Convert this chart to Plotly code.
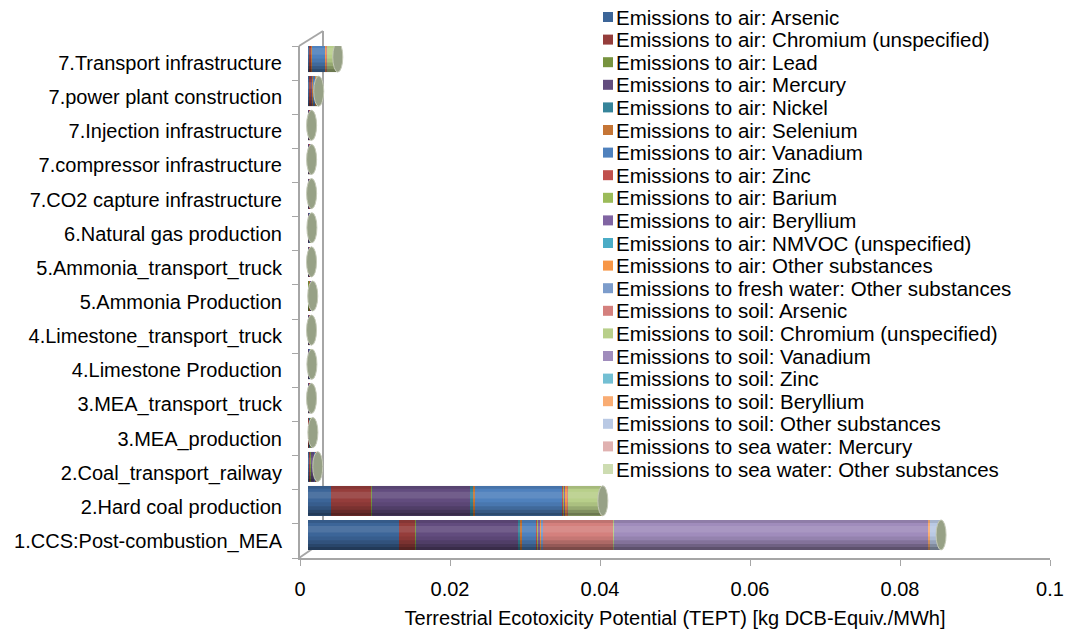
import plotly.graph_objects as go

# ---------------------------------------------------------------- data
categories = [
    "1.CCS:Post-combustion_MEA",
    "2.Hard coal production",
    "2.Coal_transport_railway",
    "3.MEA_production",
    "3.MEA_transport_truck",
    "4.Limestone Production",
    "4.Limestone_transport_truck",
    "5.Ammonia Production",
    "5.Ammonia_transport_truck",
    "6.Natural gas production",
    "7.CO2 capture infrastructure",
    "7.compressor infrastructure",
    "7.Injection infrastructure",
    "7.power plant construction",
    "7.Transport infrastructure",
]

series_names = [
    "Emissions to air: Arsenic",
    "Emissions to air: Chromium (unspecified)",
    "Emissions to air: Lead",
    "Emissions to air: Mercury",
    "Emissions to air: Nickel",
    "Emissions to air: Selenium",
    "Emissions to air: Vanadium",
    "Emissions to air: Zinc",
    "Emissions to air: Barium",
    "Emissions to air: Beryllium",
    "Emissions to air: NMVOC (unspecified)",
    "Emissions to air: Other substances",
    "Emissions to fresh water: Other substances",
    "Emissions to soil: Arsenic",
    "Emissions to soil: Chromium (unspecified)",
    "Emissions to soil: Vanadium",
    "Emissions to soil: Zinc",
    "Emissions to soil: Beryllium",
    "Emissions to soil: Other substances",
    "Emissions to sea water: Mercury",
    "Emissions to sea water: Other substances",
]

# kg DCB-Equiv./MWh, one value per category (same order as `categories`)
air_arsenic = [0.0121, 0.0031, 0.00020, 0.00008, 0.00005, 0.00006, 0.00005, 0.00007, 0.00005, 0.00006, 0.00005, 0.00005, 0.00005, 0.00018, 0.00010]
air_chromium = [0.0022, 0.0053, 0.00018, 0.00007, 0.00005, 0.00005, 0.00005, 0.00006, 0.00005, 0.00005, 0.00006, 0.00006, 0.00006, 0.00030, 0.00030]
air_lead = [0.00008, 0.00010, 0.00002, 0.00001, 0.00001, 0.00001, 0.00001, 0.00001, 0.00001, 0.00001, 0.00001, 0.00001, 0.00001, 0.00002, 0.00002]
air_mercury = [0.0137, 0.0131, 0.00040, 0.00009, 0.00007, 0.00008, 0.00007, 0.00009, 0.00007, 0.00008, 0.00006, 0.00006, 0.00006, 0.00012, 0.00006]
air_nickel = [0.00018, 0.00035, 0.00002, 0.00002, 0.00001, 0.00001, 0.00001, 0.00002, 0.00001, 0.00001, 0.00001, 0.00001, 0.00001, 0.00003, 0.00002]
air_selenium = [0.00030, 0.00028, 0.00002, 0.00002, 0.00001, 0.00001, 0.00001, 0.00002, 0.00001, 0.00001, 0.00001, 0.00001, 0.00001, 0.00002, 0.00001]
air_vanadium = [0.0019, 0.0117, 0.00020, 0.00008, 0.00006, 0.00007, 0.00006, 0.00008, 0.00006, 0.00007, 0.00006, 0.00006, 0.00006, 0.00028, 0.00180]
air_zinc = [0.00015, 0.00012, 0.00003, 0.00002, 0.00002, 0.00002, 0.00002, 0.00002, 0.00002, 0.00002, 0.00002, 0.00002, 0.00002, 0.00004, 0.00003]
air_barium = [0.00008, 0.00010, 0.00002, 0.00002, 0.00001, 0.00001, 0.00001, 0.00002, 0.00001, 0.00001, 0.00001, 0.00001, 0.00001, 0.00002, 0.00002]
air_beryllium = [0.00025, 0.00020, 0.00002, 0.00002, 0.00001, 0.00001, 0.00001, 0.00002, 0.00001, 0.00001, 0.00001, 0.00001, 0.00001, 0.00002, 0.00002]
air_nmvoc = [0.00005, 0.00004, 0.00001, 0.00001, 0.00001, 0.00001, 0.00001, 0.00001, 0.00001, 0.00001, 0.00001, 0.00001, 0.00001, 0.00001, 0.00001]
air_other = [0.00020, 0.00018, 0.00003, 0.00002, 0.00002, 0.00002, 0.00002, 0.00002, 0.00002, 0.00002, 0.00002, 0.00002, 0.00002, 0.00003, 0.00003]
freshwater_other = [0.00008, 0.00005, 0.00001, 0.00001, 0.00001, 0.00001, 0.00001, 0.00001, 0.00001, 0.00001, 0.00001, 0.00001, 0.00001, 0.00002, 0.00002]
soil_arsenic = [0.0094, 0.00006, 0.00002, 0.00003, 0.00002, 0.00002, 0.00002, 0.00003, 0.00002, 0.00002, 0.00002, 0.00002, 0.00002, 0.00003, 0.00003]
soil_chromium = [0.00010, 0.0044, 0.00004, 0.00003, 0.00002, 0.00003, 0.00002, 0.00003, 0.00002, 0.00003, 0.00003, 0.00003, 0.00003, 0.00020, 0.00140]
soil_vanadium = [0.0419, 0.00008, 0.00003, 0.00006, 0.00004, 0.00005, 0.00004, 0.00006, 0.00004, 0.00005, 0.00004, 0.00004, 0.00004, 0.00005, 0.00004]
soil_zinc = [0.00006, 0.00003, 0.00001, 0.00001, 0.00001, 0.00001, 0.00001, 0.00001, 0.00001, 0.00001, 0.00001, 0.00001, 0.00001, 0.00001, 0.00001]
soil_beryllium = [0.00025, 0.00004, 0.00001, 0.00001, 0.00001, 0.00001, 0.00001, 0.00001, 0.00001, 0.00001, 0.00001, 0.00001, 0.00001, 0.00001, 0.00001]
soil_other = [0.0014, 0.00006, 0.00002, 0.00003, 0.00002, 0.00002, 0.00002, 0.00003, 0.00002, 0.00002, 0.00002, 0.00002, 0.00002, 0.00003, 0.00003]
seawater_mercury = [0.00001, 0.00001, 0.000005, 0.000005, 0.000005, 0.000005, 0.000005, 0.000005, 0.000005, 0.000005, 0.000005, 0.000005, 0.000005, 0.000005, 0.000005]
seawater_other = [0.00002, 0.00001, 0.000005, 0.000005, 0.000005, 0.000005, 0.000005, 0.000005, 0.000005, 0.000005, 0.000005, 0.000005, 0.000005, 0.000005, 0.000005]

series_values = [
    air_arsenic, air_chromium, air_lead, air_mercury, air_nickel, air_selenium,
    air_vanadium, air_zinc, air_barium, air_beryllium, air_nmvoc, air_other,
    freshwater_other, soil_arsenic, soil_chromium, soil_vanadium, soil_zinc,
    soil_beryllium, soil_other, seawater_mercury, seawater_other,
]

series_colors = [
    "#3c6598", "#953d3b", "#77933f", "#624c7e", "#36849a", "#c57535",
    "#4f81bd", "#c0504d", "#9bbb59", "#8064a2", "#4bacc6", "#f79646",
    "#7c9ccb", "#d4807d", "#b8cf8a", "#a08cbc", "#73bfd3", "#f9ac73",
    "#b9c9e4", "#e0b1b0", "#cddcb1",
]

x_ticks = [0, 0.02, 0.04, 0.06, 0.08, 0.1]
x_tick_labels = ["0", "0.02", "0.04", "0.06", "0.08", "0.1"]
x_title = "Terrestrial Ecotoxicity Potential (TEPT) [kg DCB-Equiv./MWh]"

# ---------------------------------------------------------------- geometry
W, H = 1067, 629
ML, MR, MT, MB = 300, 17, 46, 71
PW = W - ML - MR
PH = H - MT - MB
X_MAX = 0.1
PX_PER_UNIT = PW / X_MAX
N = len(categories)
ROW_PX = PH / N
DEPTH_DX = 8     # bars sit slightly behind the front plane
DEPTH_DY = 6
BAR_W = 0.88

FONT = "Liberation Sans, Arial, sans-serif"
FRAME = "#a6a6a6"
TEXT_SIZE = 20


def px_to_paper(px, py):
    return (px - ML) / PW, (H - MB - py) / PH


fig = go.Figure()

# empty trace so the front-plane axes (ticks, labels, lines) get drawn
fig.add_trace(go.Scatter(x=[], y=[], xaxis="x", yaxis="y",
                         showlegend=False, hoverinfo="skip"))

for name, vals, col in zip(series_names, series_values, series_colors):
    fig.add_trace(go.Bar(
        y=categories, x=vals, name=name, orientation="h",
        width=BAR_W, xaxis="x2", yaxis="y2",
        marker=dict(color=col, line=dict(width=0)),
        showlegend=False,
    ))

totals = [sum(v[i] for v in series_values) for i in range(N)]

shapes = []

# 3-D frame: back wall edge and the two depth diagonals
def seg(p0, p1, layer="below"):
    x0, y0 = px_to_paper(*p0)
    x1, y1 = px_to_paper(*p1)
    return dict(type="line", xref="paper", yref="paper", x0=x0, y0=y0, x1=x1, y1=y1,
                line=dict(color=FRAME, width=2), layer=layer)

shapes.append(seg((323, 31), (323, 545)))
shapes.append(seg((299, 46), (323, 31)))
shapes.append(seg((299, 558), (318, 545)))

# cylinder shading over each bar
bands = [
    (0.00, 0.10, "rgba(0,0,0,0.42)"),
    (0.10, 0.20, "rgba(0,0,0,0.30)"),
    (0.20, 0.32, "rgba(0,0,0,0.18)"),
    (0.32, 0.45, "rgba(0,0,0,0.07)"),
    (0.58, 0.80, "rgba(255,255,255,0.10)"),
    (0.90, 1.00, "rgba(0,0,0,0.10)"),
]
for i, tot in enumerate(totals):
    yb = i - BAR_W / 2
    for f0, f1, c in bands:
        shapes.append(dict(type="rect", xref="x2", yref="y2", x0=0, x1=tot,
                           y0=yb + f0 * BAR_W, y1=yb + f1 * BAR_W,
                           fillcolor=c, line=dict(width=0), layer="above"))

# end caps of the cylinders
cap_half = 5 / PX_PER_UNIT
for i, tot in enumerate(totals):
    shapes.append(dict(type="circle", xref="x2", yref="y2",
                       x0=tot - cap_half, x1=tot + cap_half,
                       y0=i - BAR_W / 2, y1=i + BAR_W / 2,
                       fillcolor="#97a186", line=dict(color="#c4c9b6", width=1),
                       layer="above"))

# legend, laid out as a column at the top right
annotations = []
LEG_TOP, LEG_STEP = 17, 22.6
for k, (name, col) in enumerate(zip(series_names, series_colors)):
    yc = LEG_TOP + LEG_STEP * k
    sx0, sy0 = px_to_paper(603, yc + 5)
    sx1, sy1 = px_to_paper(613, yc - 5)
    shapes.append(dict(type="rect", xref="paper", yref="paper",
                       x0=sx0, y0=sy0, x1=sx1, y1=sy1,
                       fillcolor=col, line=dict(width=0), layer="above"))
    tx, ty = px_to_paper(614, yc)
    annotations.append(dict(text=name, xref="paper", yref="paper", x=tx, y=ty,
                            xanchor="left", yanchor="middle", showarrow=False,
                            font=dict(family=FONT, size=20.5, color="#000000")))

shift_x = DEPTH_DX / PX_PER_UNIT
shift_y = DEPTH_DY / ROW_PX

fig.update_layout(
    width=W, height=H,
    margin=dict(l=ML, r=MR, t=MT, b=MB, pad=0, autoexpand=False),
    paper_bgcolor="white", plot_bgcolor="rgba(0,0,0,0)",
    barmode="stack",
    showlegend=False,
    font=dict(family=FONT, size=TEXT_SIZE, color="#000000"),
    xaxis=dict(
        range=[0, X_MAX], tickvals=x_ticks, ticktext=x_tick_labels,
        automargin=False,
        showgrid=False, zeroline=False,
        showline=True, linecolor=FRAME, linewidth=2,
        ticks="outside", ticklen=6, tickcolor=FRAME, tickwidth=1,
        ticklabelstandoff=6,
        tickfont=dict(size=TEXT_SIZE),
        title=dict(text=x_title, font=dict(size=TEXT_SIZE), standoff=14),
    ),
    yaxis=dict(
        range=[-0.5, N - 0.5], tickvals=list(range(N)), ticktext=categories,
        automargin=False,
        showgrid=False, zeroline=False,
        showline=True, linecolor=FRAME, linewidth=2,
        ticks="", ticklen=0,
        ticklabelstandoff=12,
        minor=dict(tickvals=[i - 0.5 for i in range(N + 1)], ticks="outside",
                   ticklen=6, tickcolor=FRAME, tickwidth=1, showgrid=False),
        tickfont=dict(size=TEXT_SIZE),
    ),
    xaxis2=dict(
        overlaying="x", range=[-shift_x, X_MAX - shift_x],
        visible=False, showgrid=False, zeroline=False,
    ),
    yaxis2=dict(
        overlaying="y", type="category", categoryorder="array",
        categoryarray=categories,
        range=[-0.5 - shift_y, N - 0.5 - shift_y],
        visible=False, showgrid=False, zeroline=False,
    ),
    shapes=shapes,
    annotations=annotations,
)

fig.write_html("out.html")
